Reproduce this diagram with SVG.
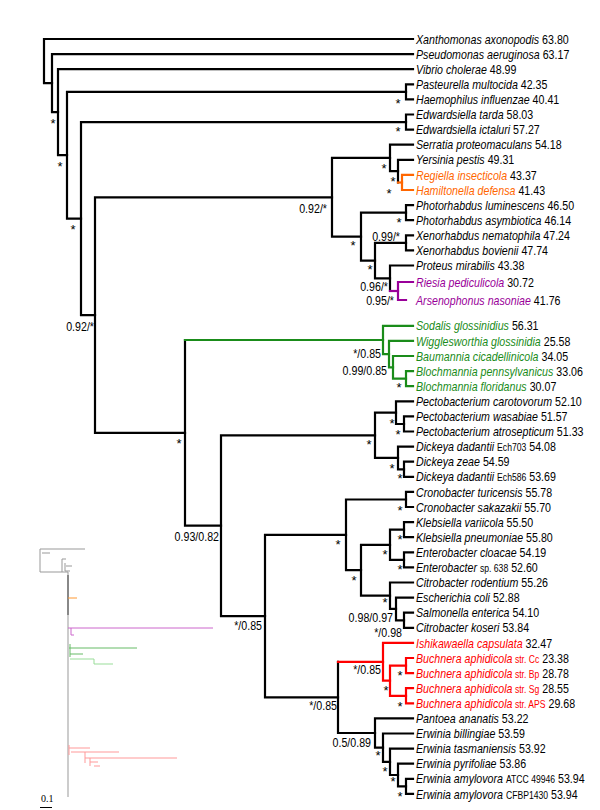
<svg xmlns="http://www.w3.org/2000/svg" width="600" height="810" viewBox="0 0 600 810">
<style>
.t{font-family:"Liberation Sans",Arial,sans-serif;font-size:13px;fill:#000}
.i{font-style:italic}
.s{font-size:10.5px}
.sup{font-family:"Liberation Sans",Arial,sans-serif;font-size:13px;fill:#000}
.st{text-anchor:middle}
.en{text-anchor:end}
.br{fill:none;stroke:#000;stroke-width:2.2;stroke-linecap:square;stroke-linejoin:miter}
.or{stroke:#FF6600}.pu{stroke:#990099}.gr{stroke:#1A8C1A}.rd{stroke:#FF0000}
.m{fill:none;stroke-width:1}
</style>
<rect width="600" height="810" fill="#fff"/>
<g id="connectors">
<path class="br" d="M413 39 H44 V83.2 H52"/>
<path class="br" d="M413 54.1 H52 V112.2 H58"/>
<path class="br" d="M413 69.2 H58 V155.2 H67"/>
<path class="br" d="M406 91.9 H67 V218.6 H81"/>
<path class="br" d="M413 84.3 H406 V99.4 H413"/>
<path class="br" d="M406 122.1 H81 V315.1 H95"/>
<path class="br" d="M413 114.5 H406 V129.6 H413"/>
<path class="br" d="M332 197.3 H95 V432.9 H185"/>
<path class="br" d="M390 157.9 H332 V236.6 H361"/>
<path class="br" d="M413 144.7 H390 V171.1 H398"/>
<path class="br" d="M413 159.8 H398 V182.5"/>
<path class="br or" d="M398 182.5 H402"/>
<path class="br or" d="M413 174.9 H402 V190 H413"/>
<path class="br" d="M406 212.7 H361 V260.6 H375"/>
<path class="br" d="M413 205.1 H406 V220.2 H413"/>
<path class="br" d="M406 242.9 H375 V278.3 H390"/>
<path class="br" d="M413 235.3 H406 V250.4 H413"/>
<path class="br" d="M413 265.5 H390 V291"/>
<path class="br pu" d="M390 291 H398"/>
<path class="br pu" d="M413 282 H398 V300 H406"/>
<path class="br" d="M185 340 V525.7 H221"/>
<path class="br gr" d="M185 340 H383"/>
<path class="br gr" d="M413 325.8 H383 V354.1 H389"/>
<path class="br gr" d="M413 340.9 H389 V367.3 H393"/>
<path class="br gr" d="M413 356 H393 V378.7 H406"/>
<path class="br gr" d="M413 371.1 H406 V386.2 H413"/>
<path class="br" d="M375 435.3 H221 V616.1 H265"/>
<path class="br" d="M396 412.6 H375 V457.9 H398"/>
<path class="br" d="M413 401.3 H396 V424 H404"/>
<path class="br" d="M413 416.4 H404 V431.5 H413"/>
<path class="br" d="M413 446.6 H398 V469.3 H404"/>
<path class="br" d="M413 461.7 H404 V476.8 H413"/>
<path class="br" d="M346 534.8 H265 V697.4 H338"/>
<path class="br" d="M406 499.5 H346 V570.2 H361"/>
<path class="br" d="M413 491.9 H406 V507 H413"/>
<path class="br" d="M390 544.8 H361 V595.7 H390"/>
<path class="br" d="M404 529.7 H390 V559.9 H404"/>
<path class="br" d="M413 522.1 H404 V537.2 H413"/>
<path class="br" d="M413 552.3 H404 V567.4 H413"/>
<path class="br" d="M413 582.5 H390 V608.9 H396"/>
<path class="br" d="M413 597.6 H396 V620.3 H404"/>
<path class="br" d="M413 612.7 H404 V627.8 H413"/>
<path class="br" d="M338 661.8 V733 H375"/>
<path class="br rd" d="M338 661.8 H383"/>
<path class="br rd" d="M413 642.9 H383 V680.7 H390"/>
<path class="br rd" d="M406 665.6 H390 V695.8 H406"/>
<path class="br rd" d="M413 658 H406 V673.1 H413"/>
<path class="br rd" d="M413 688.2 H406 V703.3 H413"/>
<path class="br" d="M413 718.4 H375 V747.7 H383"/>
<path class="br" d="M413 733.5 H383 V761.8 H390"/>
<path class="br" d="M413 748.6 H390 V775 H398"/>
<path class="br" d="M413 763.7 H398 V786.4 H406"/>
<path class="br" d="M413 778.8 H406 V793.9 H413"/>
</g>
<g id="supports">
<text class="sup st" x="53" y="127.5">*</text>
<text class="sup st" x="60" y="170.5">*</text>
<text class="sup st" x="73" y="233.5">*</text>
<text class="sup st" x="398" y="107.5">*</text>
<text class="sup st" x="398" y="135.5">*</text>
<text class="sup st" x="384" y="172.5">*</text>
<text class="sup st" x="393" y="185.5">*</text>
<text class="sup st" x="389" y="197.5">*</text>
<text class="sup st" x="399" y="226.5">*</text>
<text class="sup st" x="353" y="249.5">*</text>
<text class="sup st" x="370" y="273.5">*</text>
<text class="sup st" x="399" y="391.5">*</text>
<text class="sup st" x="179" y="447.5">*</text>
<text class="sup st" x="392" y="427.5">*</text>
<text class="sup st" x="398" y="438.5">*</text>
<text class="sup st" x="369" y="448.5">*</text>
<text class="sup st" x="392" y="472.5">*</text>
<text class="sup st" x="400" y="482.5">*</text>
<text class="sup st" x="400" y="514.5">*</text>
<text class="sup st" x="400" y="543.5">*</text>
<text class="sup st" x="338" y="548.5">*</text>
<text class="sup st" x="385" y="558.5">*</text>
<text class="sup st" x="400" y="573.5">*</text>
<text class="sup st" x="354" y="584.5">*</text>
<text class="sup st" x="385" y="606.5">*</text>
<text class="sup st" x="400" y="679.5">*</text>
<text class="sup st" x="386" y="694.5">*</text>
<text class="sup st" x="400" y="710.5">*</text>
<text class="sup st" x="378" y="759.5">*</text>
<text class="sup st" x="385" y="775.5">*</text>
<text class="sup st" x="393" y="785.5">*</text>
<text class="sup st" x="400" y="800.5">*</text>
<text class="sup en" transform="translate(94 330.7) scale(.82 1)">0.92/*</text>
<text class="sup en" transform="translate(327 212.7) scale(.82 1)">0.92/*</text>
<text class="sup en" transform="translate(400 240.7) scale(.82 1)">0.99/*</text>
<text class="sup en" transform="translate(388 290.7) scale(.82 1)">0.96/*</text>
<text class="sup en" transform="translate(394 304.7) scale(.82 1)">0.95/*</text>
<text class="sup en" transform="translate(381 357.7) scale(.82 1)">*/0.85</text>
<text class="sup en" transform="translate(387 374.7) scale(.82 1)">0.99/0.85</text>
<text class="sup en" transform="translate(219 540.7) scale(.82 1)">0.93/0.82</text>
<text class="sup en" transform="translate(262 629.7) scale(.82 1)">*/0.85</text>
<text class="sup en" transform="translate(393 622) scale(.82 1)">0.98/0.97</text>
<text class="sup en" transform="translate(402 636.8) scale(.82 1)">*/0.98</text>
<text class="sup en" transform="translate(381 673.7) scale(.82 1)">*/0.85</text>
<text class="sup en" transform="translate(337 709.7) scale(.82 1)">*/0.85</text>
<text class="sup en" transform="translate(371 746.7) scale(.82 1)">0.5/0.89</text>
</g>
<g id="leaves">
<g id="n01"><text class="t" transform="translate(416 43.6) scale(.82 1)"><tspan class="i">Xanthomonas axonopodis</tspan> 63.80</text></g>
<g id="n02"><text class="t" transform="translate(416 58.7) scale(.82 1)"><tspan class="i">Pseudomonas aeruginosa</tspan> 63.17</text></g>
<g id="n03"><text class="t" transform="translate(416 73.8) scale(.82 1)"><tspan class="i">Vibrio cholerae</tspan> 48.99</text></g>
<g id="n04"><text class="t" transform="translate(416 88.9) scale(.82 1)"><tspan class="i">Pasteurella multocida</tspan> 42.35</text></g>
<g id="n05"><text class="t" transform="translate(416 104) scale(.82 1)"><tspan class="i">Haemophilus influenzae</tspan> 40.41</text></g>
<g id="n06"><text class="t" transform="translate(416 119.1) scale(.82 1)"><tspan class="i">Edwardsiella tarda</tspan> 58.03</text></g>
<g id="n07"><text class="t" transform="translate(416 134.2) scale(.82 1)"><tspan class="i">Edwardsiella ictaluri</tspan> 57.27</text></g>
<g id="n08"><text class="t" transform="translate(416 149.3) scale(.82 1)"><tspan class="i">Serratia proteomaculans</tspan> 54.18</text></g>
<g id="n09"><text class="t" transform="translate(416 164.4) scale(.82 1)"><tspan class="i">Yersinia pestis</tspan> 49.31</text></g>
<g id="n10"><text class="t" transform="translate(416 179.5) scale(.82 1)"><tspan class="i" fill="#FF6600">Regiella insecticola</tspan> 43.37</text></g>
<g id="n11"><text class="t" transform="translate(416 194.6) scale(.82 1)"><tspan class="i" fill="#FF6600">Hamiltonella defensa</tspan> 41.43</text></g>
<g id="n12"><text class="t" transform="translate(416 209.7) scale(.82 1)"><tspan class="i">Photorhabdus luminescens</tspan> 46.50</text></g>
<g id="n13"><text class="t" transform="translate(416 224.8) scale(.82 1)"><tspan class="i">Photorhabdus asymbiotica</tspan> 46.14</text></g>
<g id="n14"><text class="t" transform="translate(416 239.9) scale(.82 1)"><tspan class="i">Xenorhabdus nematophila</tspan> 47.24</text></g>
<g id="n15"><text class="t" transform="translate(416 255) scale(.82 1)"><tspan class="i">Xenorhabdus bovienii</tspan> 47.74</text></g>
<g id="n16"><text class="t" transform="translate(416 270.1) scale(.82 1)"><tspan class="i">Proteus mirabilis</tspan> 43.38</text></g>
<g id="n17"><text class="t" transform="translate(416 286.6) scale(.82 1)"><tspan class="i" fill="#990099">Riesia pediculicola</tspan> 30.72</text></g>
<g id="n18"><text class="t" transform="translate(416 304.6) scale(.82 1)"><tspan class="i" fill="#990099">Arsenophonus nasoniae</tspan> 41.76</text></g>
<g id="n19"><text class="t" transform="translate(416 330.4) scale(.82 1)"><tspan class="i" fill="#1A8C1A">Sodalis glossinidius</tspan> 56.31</text></g>
<g id="n20"><text class="t" transform="translate(416 345.5) scale(.82 1)"><tspan class="i" fill="#1A8C1A">Wigglesworthia glossinidia</tspan> 25.58</text></g>
<g id="n21"><text class="t" transform="translate(416 360.6) scale(.82 1)"><tspan class="i" fill="#1A8C1A">Baumannia cicadellinicola</tspan> 34.05</text></g>
<g id="n22"><text class="t" transform="translate(416 375.7) scale(.82 1)"><tspan class="i" fill="#1A8C1A">Blochmannia pennsylvanicus</tspan> 33.06</text></g>
<g id="n23"><text class="t" transform="translate(416 390.8) scale(.82 1)"><tspan class="i" fill="#1A8C1A">Blochmannia floridanus</tspan> 30.07</text></g>
<g id="n24"><text class="t" transform="translate(416 405.9) scale(.82 1)"><tspan class="i">Pectobacterium carotovorum</tspan> 52.10</text></g>
<g id="n25"><text class="t" transform="translate(416 421) scale(.82 1)"><tspan class="i">Pectobacterium wasabiae</tspan> 51.57</text></g>
<g id="n26"><text class="t" transform="translate(416 436.1) scale(.82 1)"><tspan class="i">Pectobacterium atrosepticum</tspan> 51.33</text></g>
<g id="n27"><text class="t" transform="translate(416 451.2) scale(.82 1)"><tspan class="i">Dickeya dadantii</tspan> <tspan class="s">Ech703</tspan> 54.08</text></g>
<g id="n28"><text class="t" transform="translate(416 466.3) scale(.82 1)"><tspan class="i">Dickeya zeae</tspan> 54.59</text></g>
<g id="n29"><text class="t" transform="translate(416 481.4) scale(.82 1)"><tspan class="i">Dickeya dadantii</tspan> <tspan class="s">Ech586</tspan> 53.69</text></g>
<g id="n30"><text class="t" transform="translate(416 496.5) scale(.82 1)"><tspan class="i">Cronobacter turicensis</tspan> 55.78</text></g>
<g id="n31"><text class="t" transform="translate(416 511.6) scale(.82 1)"><tspan class="i">Cronobacter sakazakii</tspan> 55.70</text></g>
<g id="n32"><text class="t" transform="translate(416 526.7) scale(.82 1)"><tspan class="i">Klebsiella variicola</tspan> 55.50</text></g>
<g id="n33"><text class="t" transform="translate(416 541.8) scale(.82 1)"><tspan class="i">Klebsiella pneumoniae</tspan> 55.80</text></g>
<g id="n34"><text class="t" transform="translate(416 556.9) scale(.82 1)"><tspan class="i">Enterobacter cloacae</tspan> 54.19</text></g>
<g id="n35"><text class="t" transform="translate(416 572) scale(.82 1)"><tspan class="i">Enterobacter</tspan> <tspan class="s">sp. 638</tspan> 52.60</text></g>
<g id="n36"><text class="t" transform="translate(416 587.1) scale(.82 1)"><tspan class="i">Citrobacter rodentium</tspan> 55.26</text></g>
<g id="n37"><text class="t" transform="translate(416 602.2) scale(.82 1)"><tspan class="i">Escherichia coli</tspan> 52.88</text></g>
<g id="n38"><text class="t" transform="translate(416 617.3) scale(.82 1)"><tspan class="i">Salmonella enterica</tspan> 54.10</text></g>
<g id="n39"><text class="t" transform="translate(416 632.4) scale(.82 1)"><tspan class="i">Citrobacter koseri</tspan> 53.84</text></g>
<g id="n40"><text class="t" transform="translate(416 647.5) scale(.82 1)"><tspan class="i" fill="#FF0000">Ishikawaella capsulata</tspan> 32.47</text></g>
<g id="n41"><text class="t" transform="translate(416 662.6) scale(.82 1)"><tspan class="i" fill="#FF0000">Buchnera aphidicola</tspan><tspan class="s" fill="#FF0000"> str. Cc</tspan> 23.38</text></g>
<g id="n42"><text class="t" transform="translate(416 677.7) scale(.82 1)"><tspan class="i" fill="#FF0000">Buchnera aphidicola</tspan><tspan class="s" fill="#FF0000"> str. Bp</tspan> 28.78</text></g>
<g id="n43"><text class="t" transform="translate(416 692.8) scale(.82 1)"><tspan class="i" fill="#FF0000">Buchnera aphidicola</tspan><tspan class="s" fill="#FF0000"> str. Sg</tspan> 28.55</text></g>
<g id="n44"><text class="t" transform="translate(416 707.9) scale(.82 1)"><tspan class="i" fill="#FF0000">Buchnera aphidicola</tspan><tspan class="s" fill="#FF0000"> str. APS</tspan> 29.68</text></g>
<g id="n45"><text class="t" transform="translate(416 723) scale(.82 1)"><tspan class="i">Pantoea ananatis</tspan> 53.22</text></g>
<g id="n46"><text class="t" transform="translate(416 738.1) scale(.82 1)"><tspan class="i">Erwinia billingiae</tspan> 53.59</text></g>
<g id="n47"><text class="t" transform="translate(416 753.2) scale(.82 1)"><tspan class="i">Erwinia tasmaniensis</tspan> 53.92</text></g>
<g id="n48"><text class="t" transform="translate(416 768.3) scale(.82 1)"><tspan class="i">Erwinia pyrifoliae</tspan> 53.86</text></g>
<g id="n49"><text class="t" transform="translate(416 783.4) scale(.82 1)"><tspan class="i">Erwinia amylovora</tspan> <tspan class="s">ATCC 49946</tspan> 53.94</text></g>
<g id="n50"><text class="t" transform="translate(416 798.5) scale(.82 1)"><tspan class="i">Erwinia amylovora</tspan> <tspan class="s">CFBP1430</tspan> 53.94</text></g>
</g>
<g id="inset">
<path class="m" stroke="#999" d="M40 549 H85 M42 553 H50 M40 549 V572 H68 M62 559 V572 M62 559 H66 M65 563 V571 H70 M66 566 H72 M68 572 V797"/>
<path class="m" stroke="#444" d="M68 575 V615"/>
<path class="m" stroke="#FF9933" d="M68 598 H77"/>
<path class="m" stroke="#CC66CC" d="M68 628 H213 M71 628 V635 H74"/>
<path class="m" stroke="#66BB66" d="M69 648 H137 M70 644 V657 M70 654 H83"/>
<path class="m" stroke="#99DD99" d="M70 659 H94 V664 H113"/>
<path class="m" stroke="#FF9999" d="M69 745 V755 M69 748 H90 M71 752 H119 M85 752 V763 M85 758 H177 M90 758 V766 M90 762 H98 M94 766 H100"/>
<text x="41" y="802" font-family="Liberation Serif,serif" font-size="10" fill="#000">0.1</text>
<path class="m" stroke="#000" d="M40 807.5 H52"/>
</g>
</svg>
